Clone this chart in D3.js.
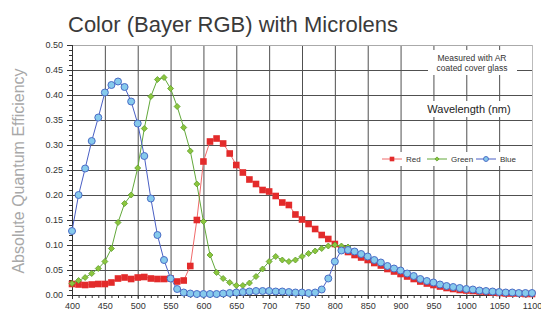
<!DOCTYPE html>
<html>
<head>
<meta charset="utf-8">
<script src="https://cdn.jsdelivr.net/npm/d3@7"></script>
<style>
    body { margin: 0; background: #fff; }
    text { font-family: "Liberation Sans", Arial, sans-serif; }
</style>
</head>
<body>
<svg id="chart"></svg>
<script>
// wavelengths, 10 nm steps
const wavelengths = d3.range(400, 1101, 10);

const redValues = [
    0.022, 0.021, 0.020, 0.021, 0.022, 0.022, 0.025, 0.033, 0.035, 0.032,
    0.035, 0.036, 0.033, 0.032, 0.032, 0.033, 0.027, 0.029, 0.058, 0.150,
    0.267, 0.307, 0.313, 0.303, 0.283, 0.260, 0.245, 0.231, 0.222, 0.210,
    0.207, 0.198, 0.185, 0.180, 0.161, 0.151, 0.142, 0.132, 0.120, 0.112,
    0.102, 0.092, 0.086, 0.080, 0.075, 0.070, 0.064, 0.059, 0.052, 0.047,
    0.042, 0.037, 0.032, 0.027, 0.023, 0.020, 0.017, 0.014, 0.012, 0.010,
    0.009, 0.008, 0.007, 0.006, 0.005, 0.004, 0.003, 0.003, 0.003, 0.002,
    0.002
];

// green stops at 820 nm
const greenValues = [
    0.023, 0.029, 0.035, 0.043, 0.053, 0.067, 0.093, 0.145, 0.183, 0.200,
    0.254, 0.333, 0.397, 0.431, 0.435, 0.413, 0.377, 0.335, 0.288, 0.222,
    0.147, 0.080, 0.045, 0.033, 0.025, 0.019, 0.019, 0.024, 0.037, 0.052,
    0.067, 0.077, 0.070, 0.067, 0.070, 0.077, 0.083, 0.088, 0.093, 0.098,
    0.100, 0.098, 0.096
];

const blueValues = [
    0.128, 0.200, 0.253, 0.308, 0.355, 0.405, 0.420, 0.427, 0.416, 0.387,
    0.343, 0.278, 0.193, 0.120, 0.070, 0.033, 0.012, 0.005, 0.003, 0.002,
    0.002, 0.002, 0.002, 0.003, 0.004, 0.005, 0.006, 0.007, 0.008, 0.008,
    0.008, 0.007, 0.007, 0.006, 0.005, 0.005, 0.004, 0.005, 0.011, 0.033,
    0.067, 0.089, 0.090, 0.087, 0.082, 0.077, 0.070, 0.065, 0.058, 0.053,
    0.049, 0.043, 0.038, 0.032, 0.028, 0.025, 0.021, 0.018, 0.016, 0.014,
    0.012, 0.011, 0.009, 0.008, 0.007, 0.006, 0.005, 0.005, 0.004, 0.004,
    0.004
];

const xTicks = d3.range(400, 1101, 50);
const yTicks = d3.range(0, 0.501, 0.05);

const width = 541;
const height = 314;

const svg = d3.select("#chart")
    .attr("width", width)
    .attr("height", height);

const x = d3.scaleLinear().domain([400, 1100]).range([72, 532]);
const y = d3.scaleLinear().domain([0, 0.5]).range([295, 45]);

// grid
const grid = svg.append("g").attr("class", "grid");
grid.selectAll("line.v")
    .data(xTicks.slice(1))
    .enter()
    .append("line")
    .attr("x1", d => x(d) + 0.5).attr("x2", d => x(d) + 0.5)
    .attr("y1", y(0.5)).attr("y2", y(0))
    .attr("stroke", d => d === 1100 ? "#bbb" : "#505050")
    .attr("stroke-width", 1);
grid.selectAll("line.h")
    .data(yTicks.slice(1))
    .enter()
    .append("line")
    .attr("x1", x(400)).attr("x2", x(1100))
    .attr("y1", d => Math.round(y(d)) + 0.5).attr("y2", d => Math.round(y(d)) + 0.5)
    .attr("stroke", d => d > 0.49 ? "#aaa" : "#505050")
    .attr("stroke-width", 1);

// white boxes behind the notes
const notes = svg.append("g");
notes.append("rect").attr("x", 428).attr("y", 50).attr("width", 89).attr("height", 25).attr("fill", "#fff");
notes.append("rect").attr("x", 423).attr("y", 101).attr("width", 92).attr("height", 16).attr("fill", "#fff");
notes.append("rect").attr("x", 378).attr("y", 152).attr("width", 148).attr("height", 14).attr("fill", "#fff");

notes.append("text").attr("x", 472).attr("y", 61).attr("text-anchor", "middle")
    .attr("font-size", 8.5).attr("fill", "#333").text("Measured with AR");
notes.append("text").attr("x", 472).attr("y", 71).attr("text-anchor", "middle")
    .attr("font-size", 8.5).attr("fill", "#333").text("coated cover glass");
notes.append("text").attr("x", 469).attr("y", 113).attr("text-anchor", "middle")
    .attr("font-size", 11).attr("fill", "#222").text("Wavelength (nm)");

// axes
const yAxis = d3.axisLeft(y).tickValues(yTicks).tickFormat(d3.format(".2f")).tickSize(5).tickPadding(4);
const yMinor = d3.axisLeft(y).tickValues(d3.range(0, 0.501, 0.01)).tickFormat("").tickSize(3);
const xAxis = d3.axisBottom(x).tickValues(xTicks).tickFormat(d3.format("d")).tickSize(4).tickPadding(4);
const xMinor = d3.axisBottom(x).tickValues(d3.range(400, 1101, 10)).tickFormat("").tickSize(3);

[yMinor, yAxis].forEach(a => {
    svg.append("g").attr("transform", `translate(${x(400)},0)`).call(a)
        .call(g => g.selectAll("path,line").attr("stroke", "#333"))
        .call(g => g.selectAll("text").attr("font-size", 9).attr("fill", "#333").attr("font-family", "Liberation Sans, Arial, sans-serif"));
});
[xMinor, xAxis].forEach(a => {
    svg.append("g").attr("transform", `translate(0,${y(0)})`).call(a)
        .call(g => g.selectAll("path,line").attr("stroke", "#333"))
        .call(g => g.selectAll("text").attr("font-size", 9).attr("fill", "#333").attr("font-family", "Liberation Sans, Arial, sans-serif"));
});

// series
const series = [
    { name: "Red", values: redValues, line: "#f06a6a", fill: "#e32b2b", stroke: "#e32b2b", shape: "square" },
    { name: "Green", values: greenValues, line: "#62a83a", fill: "#8cc63e", stroke: "#5e9e2c", shape: "diamond" },
    { name: "Blue", values: blueValues, line: "#4a5fc4", fill: "#86caec", stroke: "#4a6cc6", shape: "circle" }
];

function drawMarker(g, s, cx, cy, scale) {
    scale = scale || 1;
    if (s.shape === "square") {
        g.append("rect").attr("x", cx - 3.3 * scale).attr("y", cy - 3.3 * scale)
            .attr("width", 6.6 * scale).attr("height", 6.6 * scale).attr("fill", s.fill);
    } else if (s.shape === "diamond") {
        const r = 3 * scale;
        g.append("path").attr("d", `M${cx},${cy - r}L${cx + r},${cy}L${cx},${cy + r}L${cx - r},${cy}Z`)
            .attr("fill", s.fill).attr("stroke", s.stroke).attr("stroke-width", 0.8);
    } else {
        g.append("circle").attr("cx", cx).attr("cy", cy).attr("r", 3.5 * scale)
            .attr("fill", s.fill).attr("stroke", s.stroke).attr("stroke-width", 1);
    }
}

const line = d3.line()
    .x((d, i) => x(wavelengths[i]))
    .y(d => y(d));

series.forEach(s => {
    const g = svg.append("g").attr("class", "series");
    g.append("path")
        .datum(s.values)
        .attr("d", line)
        .attr("fill", "none")
        .attr("stroke", s.line)
        .attr("stroke-width", 1);
    s.values.forEach((v, i) => drawMarker(g, s, x(wavelengths[i]), y(v)));
});

// legend
const legendX = [382, 427, 476];
series.forEach((s, i) => {
    const g = svg.append("g");
    const lx = legendX[i];
    g.append("line").attr("x1", lx).attr("x2", lx + 20).attr("y1", 159).attr("y2", 159)
        .attr("stroke", s.line).attr("stroke-width", 1);
    drawMarker(g, s, lx + 10, 159, 0.7);
    g.append("text").attr("x", lx + 24).attr("y", 162)
        .attr("font-size", 8).attr("fill", "#333").text(s.name);
});

// titles
svg.append("text")
    .attr("x", 68).attr("y", 32)
    .attr("font-size", 22)
    .attr("fill", "#3a3a3a")
    .text("Color (Bayer RGB) with Microlens");

svg.append("text")
    .attr("transform", "translate(24,171) rotate(-90)")
    .attr("text-anchor", "middle")
    .attr("font-size", 16)
    .attr("fill", "#a8a8a8")
    .text("Absolute Quantum Efficiency");
</script>
</body>
</html>
